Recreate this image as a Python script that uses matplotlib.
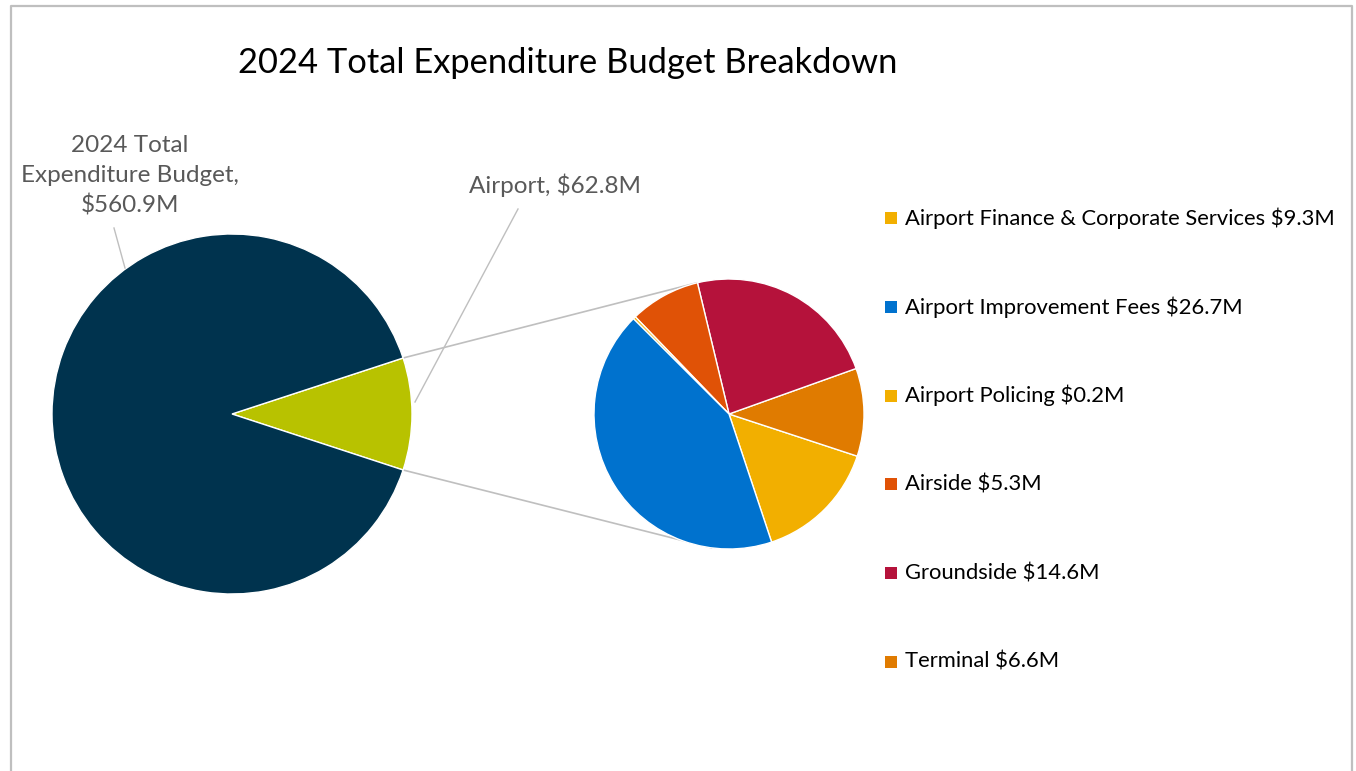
import matplotlib.pyplot as plt
import numpy as np

plt.rcParams['font.family'] = ['Lato', 'DejaVu Sans']

# main pie: rest of the budget vs. airport
main_labels = ['2024 Total Expenditure Budget', 'Airport']
main_values = [560.9, 62.8]

# airport breakdown (legend order)
sub_labels = ['Airport Finance & Corporate Services', 'Airport Improvement Fees',
              'Airport Policing', 'Airside', 'Groundside', 'Terminal']
sub_values = [9.3, 26.7, 0.2, 5.3, 14.6, 6.6]
sub_colors = ['#F2AF00', '#0072CE', '#F2AF00', '#E05206', '#B5123B', '#E07B00']

# order the slices go round the small pie (counter-clockwise)
sub_order = [0, 5, 4, 3, 2, 1]

fig = plt.figure(figsize=(13.56, 7.71), dpi=100)
ax = fig.add_axes([0, 0, 1, 1])
ax.set_xlim(0, 1356)
ax.set_ylim(0, 771)
ax.set_aspect('equal')
ax.axis('off')

# chart frame
ax.plot([11, 11, 1352, 1352], [-5, 765, 765, -5], color='#BFBFBF', lw=1.6)

c1, r1 = (232, 357), 180
c2, r2 = (729, 357), 135

half = 180 * main_values[1] / sum(main_values)
ax.pie([main_values[1], main_values[0]], colors=['#B8C200', '#00334E'],
       startangle=-half, center=c1, radius=r1,
       wedgeprops=dict(edgecolor='white', linewidth=1))

ax.pie([sub_values[i] for i in sub_order], colors=[sub_colors[i] for i in sub_order],
       startangle=-71.6, center=c2, radius=r2,
       wedgeprops=dict(edgecolor='white', linewidth=1))
ax.set_xlim(0, 1356)
ax.set_ylim(0, 771)

# connector lines between the two pies
for a1, a2 in [(half, 104), (-half, -97.4)]:
    p1 = (c1[0] + r1 * np.cos(np.radians(a1)), c1[1] + r1 * np.sin(np.radians(a1)))
    p2 = (c2[0] + r2 * np.cos(np.radians(a2)), c2[1] + r2 * np.sin(np.radians(a2)))
    ax.plot([p1[0], p2[0]], [p1[1], p2[1]], color='#BFBFBF', lw=1.2, zorder=0)

# data labels with leader lines
grey = '#595959'
ax.text(130, 771 - 176, '2024 Total\nExpenditure Budget,\n$%.1fM' % main_values[0],
        ha='center', va='center', fontsize=17.5, color=grey, linespacing=1.5)
ax.plot([114, 125], [771 - 228, 771 - 268], color='#BFBFBF', lw=1)
ax.text(555, 771 - 185, 'Airport, $%.1fM' % main_values[1],
        ha='center', va='center', fontsize=17.5, color=grey)
ax.plot([518, 415], [771 - 209, 771 - 402], color='#BFBFBF', lw=1)

ax.text(568, 771 - 63, '2024 Total Expenditure Budget Breakdown',
        ha='center', va='center', fontsize=24.8, color='black')

# legend
for i, (lab, val) in enumerate(zip(sub_labels, sub_values)):
    y = 771 - (218 + i * 88.8)
    ax.scatter([891], [y], marker='s', s=70, color=sub_colors[i], linewidths=0)
    ax.text(905, y, '%s $%.1fM' % (lab, val), ha='left', va='center',
            fontsize=15.8, color='black')

fig.savefig('out.png', dpi=100)
